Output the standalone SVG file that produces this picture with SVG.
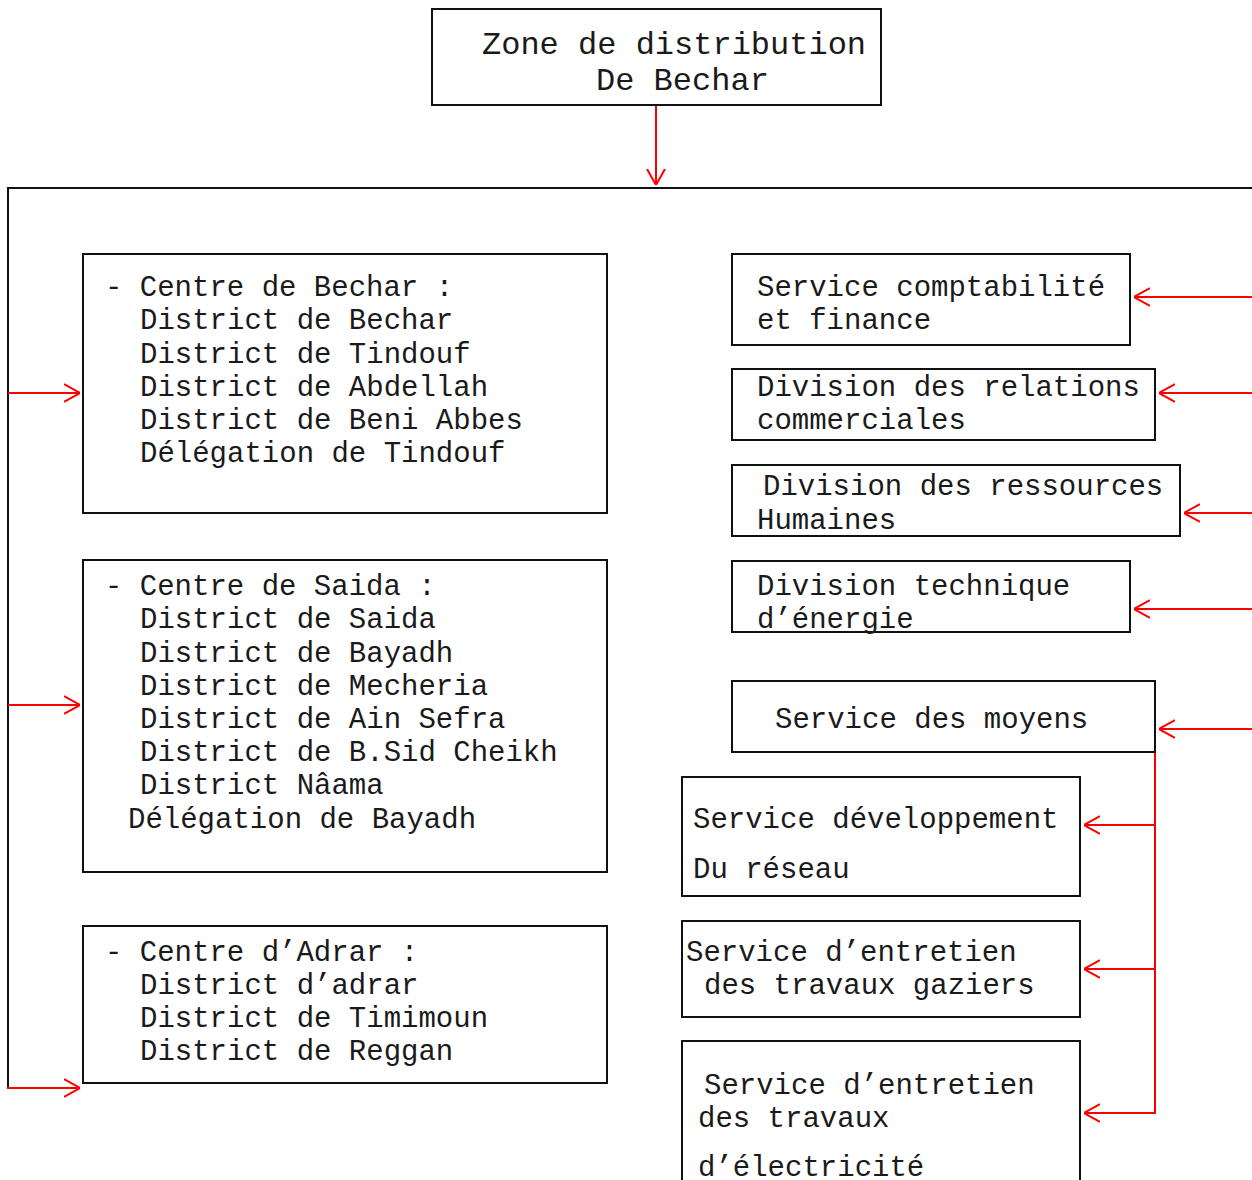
<svg xmlns="http://www.w3.org/2000/svg" width="1252" height="1180" viewBox="0 0 1252 1180">
  <style>
    .box { fill: #ffffff; stroke: #111111; stroke-width: 2; }
    .txt { font-family: "Liberation Mono", "Courier New", monospace; font-size: 29px; fill: #1a1a1a; }
    .title { font-size: 32px; }
    .frame { fill: none; stroke: #111111; stroke-width: 2; }
    .link { fill: none; stroke: #ff0000; stroke-width: 2; }
    .arrow { fill: none; stroke: #ff0000; stroke-width: 2; marker-end: url(#head); }
  </style>
  <defs>
    <marker id="head" viewBox="0 0 16 20" refX="16" refY="10" markerWidth="16" markerHeight="20" markerUnits="userSpaceOnUse" orient="auto">
      <path d="M0,1 L16,10 L0,19" fill="none" stroke="#ff0000" stroke-width="2"/>
    </marker>
  </defs>

  <!-- frame grouping the sub-units -->
  <g id="frame">
    <polyline class="frame" points="1252,188 8,188 8,1088"/>
  </g>

  <!-- connectors -->
  <g id="connectors">
    <line class="arrow" x1="656" y1="105" x2="656" y2="185"/>
    <line class="arrow" x1="8" y1="393" x2="80" y2="393"/>
    <line class="arrow" x1="8" y1="705" x2="80" y2="705"/>
    <line class="arrow" x1="7" y1="1088" x2="80" y2="1088"/>
    <line class="arrow" x1="1252" y1="297" x2="1134" y2="297"/>
    <line class="arrow" x1="1252" y1="393" x2="1159" y2="393"/>
    <line class="arrow" x1="1252" y1="513" x2="1184" y2="513"/>
    <line class="arrow" x1="1252" y1="609" x2="1134" y2="609"/>
    <line class="arrow" x1="1252" y1="729" x2="1159" y2="729"/>
    <line class="link" x1="1155" y1="752" x2="1155" y2="1114"/>
    <line class="arrow" x1="1156" y1="825" x2="1084" y2="825"/>
    <line class="arrow" x1="1156" y1="969" x2="1084" y2="969"/>
    <line class="arrow" x1="1156" y1="1113" x2="1084" y2="1113"/>
  </g>

  <g id="zone">
    <rect class="box" x="432" y="9" width="449" height="96"/>
    <text class="txt title" x="482" y="54">Zone de distribution</text>
    <text class="txt title" x="596" y="90">De Bechar</text>
  </g>

  <g id="centre-bechar">
    <rect class="box" x="83" y="254" width="524" height="259"/>
    <text class="txt" x="105" y="296">- Centre de Bechar :</text>
    <text class="txt" x="140" y="329">District de Bechar</text>
    <text class="txt" x="140" y="363">District de Tindouf</text>
    <text class="txt" x="140" y="396">District de Abdellah</text>
    <text class="txt" x="140" y="429">District de Beni Abbes</text>
    <text class="txt" x="140" y="462">Délégation de Tindouf</text>
  </g>

  <g id="centre-saida">
    <rect class="box" x="83" y="560" width="524" height="312"/>
    <text class="txt" x="105" y="595">- Centre de Saida :</text>
    <text class="txt" x="140" y="628">District de Saida</text>
    <text class="txt" x="140" y="662">District de Bayadh</text>
    <text class="txt" x="140" y="695">District de Mecheria</text>
    <text class="txt" x="140" y="728">District de Ain Sefra</text>
    <text class="txt" x="140" y="761">District de B.Sid Cheikh</text>
    <text class="txt" x="140" y="794">District Nâama</text>
    <text class="txt" x="128" y="828">Délégation de Bayadh</text>
  </g>

  <g id="centre-adrar">
    <rect class="box" x="83" y="926" width="524" height="157"/>
    <text class="txt" x="105" y="961">- Centre d’Adrar :</text>
    <text class="txt" x="140" y="994">District d’adrar</text>
    <text class="txt" x="140" y="1027">District de Timimoun</text>
    <text class="txt" x="140" y="1060">District de Reggan</text>
  </g>

  <g id="comptabilite">
    <rect class="box" x="732" y="254" width="398" height="91"/>
    <text class="txt" x="757" y="296">Service comptabilité</text>
    <text class="txt" x="757" y="329">et finance</text>
  </g>

  <g id="relations">
    <rect class="box" x="732" y="369" width="423" height="71"/>
    <text class="txt" x="757" y="396">Division des relations</text>
    <text class="txt" x="757" y="429">commerciales</text>
  </g>

  <g id="ressources">
    <rect class="box" x="732" y="465" width="448" height="71"/>
    <text class="txt" x="763" y="495">Division des ressources</text>
    <text class="txt" x="757" y="529">Humaines</text>
  </g>

  <g id="technique">
    <rect class="box" x="732" y="561" width="398" height="71"/>
    <text class="txt" x="757" y="595">Division technique</text>
    <text class="txt" x="757" y="628">d’énergie</text>
  </g>

  <g id="moyens">
    <rect class="box" x="732" y="681" width="423" height="71"/>
    <text class="txt" x="775" y="728">Service des moyens</text>
  </g>

  <g id="developpement">
    <rect class="box" x="682" y="777" width="398" height="119"/>
    <text class="txt" x="693" y="828">Service développement</text>
    <text class="txt" x="693" y="878">Du réseau</text>
  </g>

  <g id="gaziers">
    <rect class="box" x="682" y="921" width="398" height="96"/>
    <text class="txt" x="686" y="961">Service d’entretien</text>
    <text class="txt" x="704" y="994">des travaux gaziers</text>
  </g>

  <g id="electricite">
    <rect class="box" x="682" y="1041" width="398" height="160"/>
    <text class="txt" x="704" y="1094">Service d’entretien</text>
    <text class="txt" x="698" y="1127">des travaux</text>
    <text class="txt" x="698" y="1176">d’électricité</text>
  </g>
</svg>
